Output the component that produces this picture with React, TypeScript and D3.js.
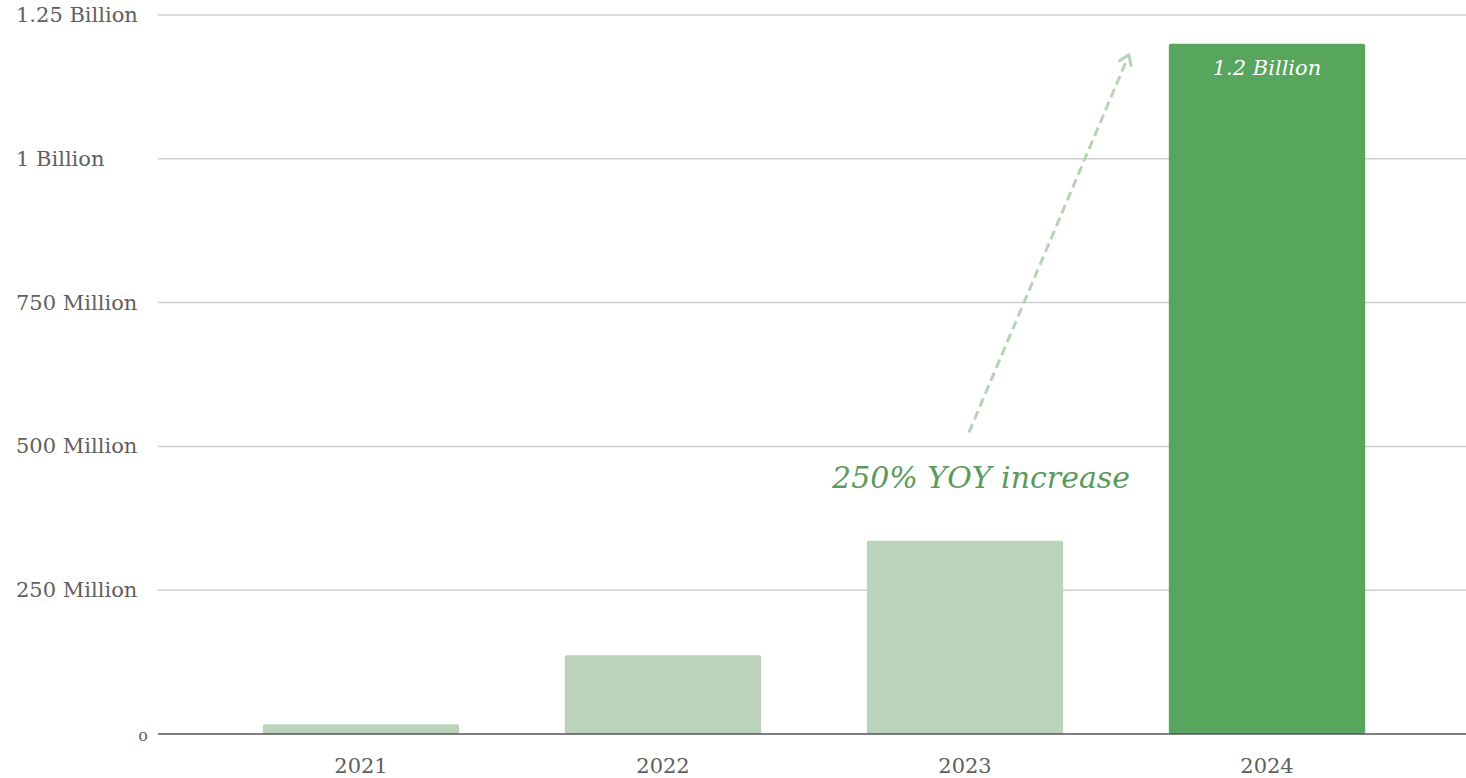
import { useEffect, useRef } from "react";
import * as d3 from "d3";

const years = ["2021", "2022", "2023", "2024"];
const users = [17e6, 137e6, 336e6, 1.2e9];
const highlightYear = "2024";
const yTicks = [0, 250e6, 500e6, 750e6, 1e9, 1.25e9];
const yTickLabels = ["o", "250 Million", "500 Million", "750 Million", "1 Billion", "1.25 Billion"];
const barLabel = "1.2 Billion";
const annotation = "250% YOY increase";

const WIDTH = 1466;
const HEIGHT = 778;

export default function App() {
  const svgRef = useRef<SVGSVGElement>(null);

  useEffect(() => {
    if (!svgRef.current) return;
    const svg = d3.select(svgRef.current);
    svg.selectAll("*").remove();

    const font = "'DejaVu Serif', Georgia, serif";
    const marginTop = 15;
    const marginBottom = 44;
    const gridLeft = 158;

    const x = d3
      .scaleBand<string>()
      .domain(years)
      .range([210, 1418])
      .paddingInner(0.35)
      .paddingOuter(0.175);

    const y = d3
      .scaleLinear()
      .domain([0, 1.25e9])
      .range([HEIGHT - marginBottom, marginTop]);

    // Grid lines
    svg
      .append("g")
      .selectAll("line")
      .data(yTicks.filter((d) => d > 0))
      .join("line")
      .attr("x1", gridLeft)
      .attr("x2", WIDTH)
      .attr("y1", (d) => y(d))
      .attr("y2", (d) => y(d))
      .attr("stroke", "#cfcfcf")
      .attr("stroke-width", 1.5);

    // Y labels
    svg
      .append("g")
      .selectAll("text")
      .data(yTicks)
      .join("text")
      .attr("x", (d) => (d === 0 ? 148 : 16))
      .attr("y", (d) => y(d) + 7)
      .attr("text-anchor", (d) => (d === 0 ? "end" : "start"))
      .attr("fill", "#5f5f5f")
      .attr("font-family", font)
      .attr("font-size", (d) => (d === 0 ? 16 : 21))
      .text((_, i) => yTickLabels[i]);

    // Bars
    svg
      .append("g")
      .selectAll("rect")
      .data(years)
      .join("rect")
      .attr("x", (d) => x(d)!)
      .attr("width", x.bandwidth())
      .attr("y", (_, i) => y(users[i]))
      .attr("height", (_, i) => y(0) - y(users[i]))
      .attr("rx", 2)
      .attr("fill", (d) => (d === highlightYear ? "#58a65e" : "#bad3ba"));

    // Baseline
    svg
      .append("line")
      .attr("x1", gridLeft)
      .attr("x2", WIDTH)
      .attr("y1", y(0))
      .attr("y2", y(0))
      .attr("stroke", "#555")
      .attr("stroke-width", 1.5);

    // X labels
    svg
      .append("g")
      .selectAll("text")
      .data(years)
      .join("text")
      .attr("x", (d) => x(d)! + x.bandwidth() / 2)
      .attr("y", HEIGHT - 5)
      .attr("text-anchor", "middle")
      .attr("fill", "#5f5f5f")
      .attr("font-family", font)
      .attr("font-size", 21)
      .text((d) => d);

    // Value label on highlighted bar
    const hi = years.indexOf(highlightYear);
    svg
      .append("text")
      .attr("x", x(highlightYear)! + x.bandwidth() / 2)
      .attr("y", y(users[hi]) + 31)
      .attr("text-anchor", "middle")
      .attr("fill", "#fff")
      .attr("font-family", font)
      .attr("font-style", "italic")
      .attr("font-size", 21)
      .text(barLabel);

    // Dashed growth arrow
    const x0 = x("2023")! + x.bandwidth() * 0.52;
    const y0 = y(500e6) - 14;
    const x1 = x("2024")! - 40;
    const y1 = y(users[hi]) + 11;
    svg
      .append("line")
      .attr("x1", x0)
      .attr("y1", y0)
      .attr("x2", x1 - 2)
      .attr("y2", y1 + 5)
      .attr("stroke", "#b6d3b6")
      .attr("stroke-width", 3)
      .attr("stroke-dasharray", "9 5");

    const ang = Math.atan2(y1 - y0, x1 - x0);
    const head = 11;
    const spread = 0.6;
    svg
      .append("path")
      .attr(
        "d",
        `M${x1 - head * Math.cos(ang - spread)},${y1 - head * Math.sin(ang - spread)}` +
          `L${x1},${y1}` +
          `L${x1 - head * Math.cos(ang + spread)},${y1 - head * Math.sin(ang + spread)}`,
      )
      .attr("fill", "none")
      .attr("stroke", "#b6d3b6")
      .attr("stroke-width", 3)
      .attr("stroke-linecap", "round")
      .attr("stroke-linejoin", "round");

    svg
      .append("text")
      .attr("x", 981)
      .attr("y", y(500e6) + 42)
      .attr("text-anchor", "middle")
      .attr("fill", "#5a9a5c")
      .attr("font-family", font)
      .attr("font-style", "italic")
      .attr("font-size", 30)
      .text(annotation);
  }, []);

  return (
    <svg
      ref={svgRef}
      width={WIDTH}
      height={HEIGHT}
      style={{ position: "absolute", left: 0, top: 0, background: "#fff" }}
    />
  );
}
